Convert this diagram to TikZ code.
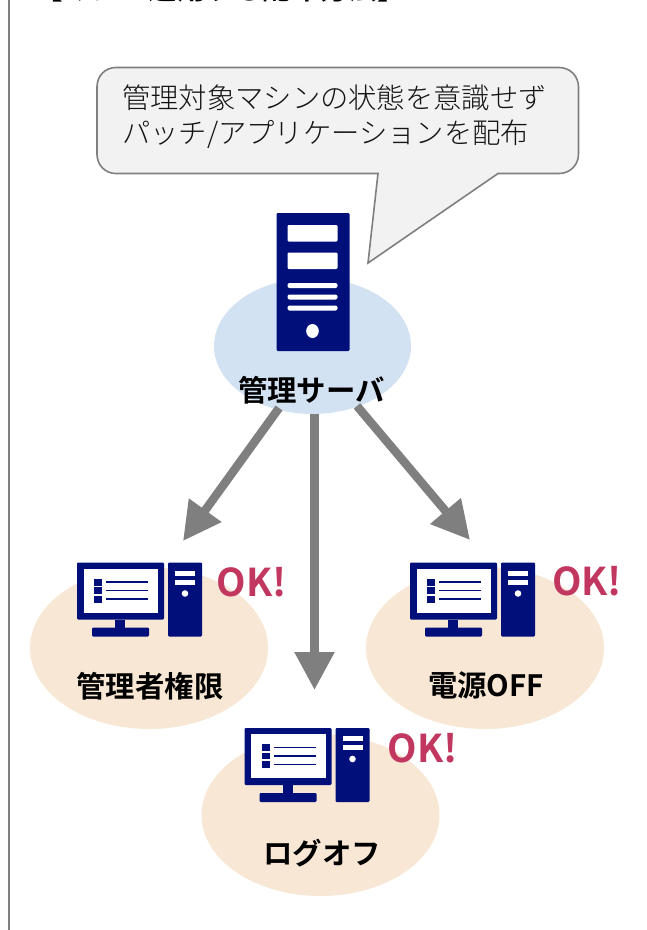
\documentclass[tikz,border=0pt]{standalone}
\usepackage{fontspec}
\newfontfamily\jpl{Noto Sans CJK JP Light}
\newfontfamily\jpb{Noto Sans CJK JP Bold}
\usetikzlibrary{arrows.meta}
\definecolor{navy}{HTML}{000F7A}
\definecolor{pale}{HTML}{F8E7D5}
\definecolor{skyb}{HTML}{D2E2F3}
\definecolor{okc}{HTML}{C2375F}
\definecolor{gr}{HTML}{7F7F7F}
\definecolor{bub}{HTML}{F2F2F2}
\tikzset{
  x=1pt,y=-1pt,
  lab/.style={font=\jpb\fontsize{29.4}{32}\selectfont,text=black,inner sep=0pt},
  ok/.style={font=\jpb\fontsize{38.3}{42}\selectfont,text=okc,inner sep=0pt},
  bubtext/.style={anchor=base west,inner sep=0pt,font=\jpl\fontsize{28.3}{32}\selectfont,text=black!92},
  arr/.style={draw=gr,line width=8.5pt,-{Triangle[length=38pt,width=38pt]},shorten >=0pt},
  nv/.style={fill=navy,rounded corners=1.2pt},
  wh/.style={fill=white,rounded corners=1.2pt},
}
\newcommand{\pc}[2]{%
\begin{scope}[shift={(#1,#2)}]
\fill[nv] (0,0) rectangle (87,57);
\fill[white] (6.5,6) rectangle (81,50);
\fill[navy] (17,16) rectangle (25,23);
\fill[navy] (17,24.5) rectangle (25,31);
\fill[navy] (17,33) rectangle (25,40);
\fill[navy] (29,18.5) rectangle (71,20);
\fill[navy] (29,27) rectangle (71,28.5);
\fill[navy] (29,35.5) rectangle (71,37);
\fill[navy] (38,57) rectangle (48,65);
\fill[nv] (15,65) rectangle (72,74);
\fill[nv] (91,0) rectangle (125,74);
\fill[white] (98,8) rectangle (118,13);
\fill[white] (98,17) rectangle (118,22);
\fill[white] (108,31) circle (3.3);
\end{scope}}
\begin{document}
\begin{tikzpicture}
\path[use as bounding box] (0,0) rectangle (646,930);
\fill[white] (0,0) rectangle (646,930);
\draw[gr,line width=2.4pt] (9,0) -- (9,930);
\begin{scope}
\clip (0,0) rectangle (646,930);
\node[anchor=base west,inner sep=0pt,font=\jpb\fontsize{28.6}{32}\selectfont] (head) at (34,-1) {【マシン適用する配布方法】};
\end{scope}
\fill[skyb] (312.5,346) ellipse (98.5 and 68);
\fill[pale] (149,648) ellipse (119 and 81);
\fill[pale] (485,648) ellipse (119 and 81);
\fill[pale] (320.5,815) ellipse (119 and 81);
\path[draw=gr,fill=bub,line width=1.6pt]
 (116,67.5) -- (559,67.5) .. controls (570,67.5) and (578.5,76) .. (578.5,87)
 -- (578.5,154) .. controls (578.5,165) and (570,173.5) .. (559,173.5)
 -- (498,173.5) -- (368,263) -- (378,173.5) -- (116,173.5)
 .. controls (105,173.5) and (97,165) .. (97,154)
 -- (97,87) .. controls (97,76) and (105,67.5) .. (116,67.5) -- cycle;
\node[bubtext] (b1) at (122,108) {管理対象マシンの状態を意識せず};
\node[bubtext] (b2) at (122,143) {パッチ/アプリケーションを配布};
\fill[nv] (276.5,213) rectangle (349.5,351);
\fill[wh] (287.5,225) rectangle (337.5,241.5);
\fill[wh] (287.5,252.5) rectangle (337.5,269);
\fill[white,rounded corners=2pt] (287.5,283) rectangle (337.5,288);
\fill[white,rounded corners=2pt] (287.5,294.5) rectangle (337.5,299.5);
\fill[white,rounded corners=2pt] (287.5,305.5) rectangle (337.5,310.5);
\fill[white] (312.5,331) ellipse (6.3 and 7);
\coordinate (s1) at (279,408);
\coordinate (s2) at (314.5,414);
\coordinate (s3) at (357,406);
\coordinate (t1) at (183,541);
\coordinate (t2) at (314.5,690);
\coordinate (t3) at (470,540);
\draw[arr] (s1) -- (t1);
\draw[arr] (s2) -- (t2);
\draw[arr] (s3) -- (t3);
\pc{77}{562.5}
\pc{410}{562.5}
\pc{244.5}{728}
\node[lab] (srv) at (311.5,390) {管理サーバ};
\node[lab] (a) at (150,686) {管理者権限};
\node[lab] (b) at (486,685) {電源OFF};
\node[lab] (c) at (322,853) {ログオフ};
\node[ok] (oka) at (251.5,582) {OK!};
\node[ok] (okb) at (587,581) {OK!};
\node[ok] (okc) at (422.5,748) {OK!};
\end{tikzpicture}
\end{document}
